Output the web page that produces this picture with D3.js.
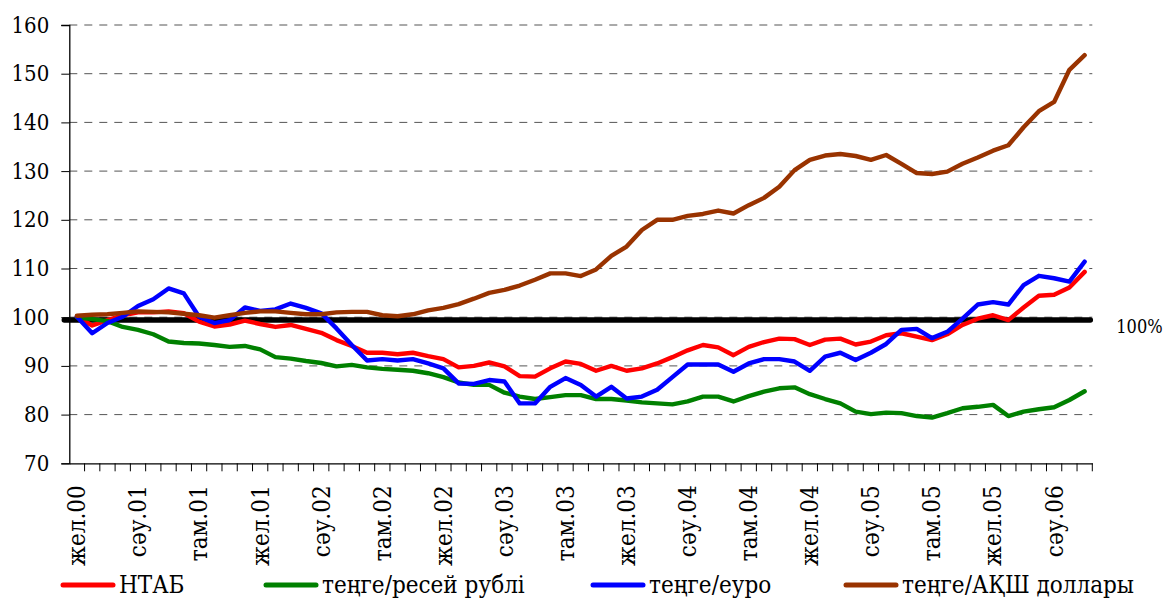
<!DOCTYPE html>
<html>
<head>
<meta charset="utf-8">
<script src="https://cdn.jsdelivr.net/npm/d3@7"></script>
<style>
  body { margin: 0; background: #fff; }
</style>
</head>
<body>
<svg class="rootSvg" width="1166" height="601"></svg>
<script>
// Kazakh month abbreviations, series runs Dec 2000 .. Jun 2006
var months = ['қаң', 'ақп', 'нау', 'сәу', 'мам', 'мау', 'шіл', 'там', 'қыр', 'қаз', 'қар', 'жел'];
var yTicks = [70, 80, 90, 100, 110, 120, 130, 140, 150, 160];

var ntab = [100.1, 98.3, 99.4, 100.4, 101.0, 101.0, 101.2, 100.8, 99.1, 98.1,
            98.5, 99.3, 98.6, 98.0, 98.4, 97.6, 96.8, 95.3, 94.1, 92.7,
            92.7, 92.4, 92.7, 92.0, 91.4, 89.7, 90.0, 90.7, 89.9, 87.9,
            87.8, 89.5, 90.9, 90.4, 89.0, 90.0, 89.0, 89.5, 90.5, 91.8,
            93.2, 94.3, 93.8, 92.2, 93.9, 94.9, 95.6, 95.5, 94.3, 95.4,
            95.6, 94.4, 95.0, 96.3, 96.7, 96.0, 95.3, 96.5, 98.4, 99.7,
            100.4, 99.4, 102.0, 104.4, 104.6, 106.1, 109.3];

var rub = [100.0, 99.6, 99.2, 98.0, 97.4, 96.5, 95.0, 94.7, 94.6, 94.3,
           93.9, 94.1, 93.4, 91.8, 91.5, 91.0, 90.6, 89.9, 90.2, 89.7,
           89.4, 89.2, 89.0, 88.5, 87.7, 86.6, 86.1, 86.1, 84.5, 83.7,
           83.2, 83.6, 84.0, 84.0, 83.2, 83.2, 82.9, 82.5, 82.3, 82.1,
           82.7, 83.7, 83.7, 82.7, 83.8, 84.7, 85.4, 85.6, 84.2, 83.2,
           82.3, 80.6, 80.1, 80.4, 80.3, 79.7, 79.4, 80.3, 81.3, 81.6,
           82.0, 79.7, 80.6, 81.1, 81.5, 83.0, 84.8];

var eur = [100.1, 96.7, 98.8, 100.1, 102.3, 103.7, 105.9, 104.9, 100.1, 98.8,
           99.4, 102.0, 101.3, 101.6, 102.8, 101.9, 100.8, 97.7, 94.3, 91.1,
           91.4, 91.1, 91.4, 90.5, 89.5, 86.4, 86.3, 87.1, 86.8, 82.3,
           82.3, 85.7, 87.5, 86.1, 83.7, 85.7, 83.3, 83.7, 85.1, 87.7,
           90.3, 90.3, 90.3, 88.8, 90.5, 91.4, 91.4, 90.9, 89.0, 91.9,
           92.7, 91.2, 92.7, 94.5, 97.4, 97.6, 95.7, 97.0, 99.7, 102.6,
           103.1, 102.6, 106.6, 108.5, 108.0, 107.3, 111.4];

var usd = [100.3, 100.5, 100.6, 100.9, 101.2, 101.1, 101.0, 100.7, 100.4, 99.9,
           100.4, 100.9, 101.2, 101.2, 100.9, 100.6, 100.6, 101.0, 101.1, 101.1,
           100.4, 100.2, 100.6, 101.4, 101.9, 102.7, 103.8, 105.0, 105.6, 106.5,
           107.7, 109.0, 109.0, 108.45, 109.8, 112.6, 114.5, 117.9, 120.0, 120.0,
           120.8, 121.2, 121.9, 121.3, 123.0, 124.5, 126.8, 130.2, 132.3, 133.2,
           133.5, 133.1, 132.3, 133.3, 131.5, 129.6, 129.4, 129.9, 131.5, 132.8,
           134.2, 135.3, 139.0, 142.3, 144.2, 150.8, 153.8];

var baseLevel = 99.45;

var seriesNames = ['НТАБ', 'теңге/ресей рублі', 'теңге/еуро', 'теңге/АҚШ доллары'];
var seriesColors = ['#ff0000', '#008000', '#0000ff', '#993300'];
var seriesData = [ntab, rub, eur, usd];

var fontFamily = 'DejaVu Serif Condensed, DejaVu Serif';

// category labels
var categories = [];
for (var i = 0; i < ntab.length; i++) {
    var m = (11 + i) % 12;
    var yr = 2000 + Math.floor((11 + i) / 12);
    categories.push(months[m] + '.' + String(yr).slice(2));
}

var svg = d3.select('.rootSvg')
    .attr('font-family', fontFamily);
var plotLeft = 69.3, plotRight = 1092.3, plotTop = 25, plotBottom = 463.3;

var x = d3.scaleBand().domain(categories).range([plotLeft, plotRight]);
var y = d3.scaleLinear().domain([70, 160]).range([plotBottom, plotTop]);

function cx(i) {
    return x(categories[i]) + x.bandwidth() / 2;
}

// gridlines
svg.append('g')
    .selectAll('line')
    .data(yTicks.slice(1))
    .enter()
    .append('line')
        .attr('x1', plotLeft)
        .attr('x2', plotRight)
        .attr('y1', function (d) { return y(d); })
        .attr('y2', function (d) { return y(d); })
        .attr('stroke', '#555')
        .attr('stroke-width', 1)
        .attr('stroke-dasharray', '8,7');

// y axis
var yAxis = svg.append('g')
    .attr('transform', 'translate(' + plotLeft + ',0)')
    .call(d3.axisLeft(y).tickValues(yTicks).tickSize(8).tickPadding(12));
yAxis.attr('font-family', fontFamily);
yAxis.select('.domain').attr('stroke', '#000').attr('stroke-width', 1.3);
yAxis.selectAll('.tick line').attr('stroke', '#000');
yAxis.selectAll('text')
    .attr('font-size', 22)
    .attr('fill', '#000');

// x axis: labels every 4 months, ticks at the band edges
var xAxis = svg.append('g')
    .attr('transform', 'translate(0,' + plotBottom + ')')
    .call(d3.axisBottom(x).tickSize(0).tickFormat(function (d, i) {
        return i % 4 === 0 ? d : '';
    }));
xAxis.attr('font-family', fontFamily);
xAxis.select('.domain').attr('stroke', '#000').attr('stroke-width', 1.3);
xAxis.selectAll('text')
    .attr('font-size', 24)
    .attr('fill', '#000')
    .attr('text-anchor', 'end')
    .attr('transform', 'rotate(-90)')
    .attr('x', -22)
    .attr('y', 0)
    .attr('dy', '0.35em');

var edges = categories.map(function (c) { return x(c); }).concat([plotRight]);
svg.append('g')
    .selectAll('line')
    .data(edges.slice(1))
    .enter()
    .append('line')
        .attr('x1', function (d) { return d; })
        .attr('x2', function (d) { return d; })
        .attr('y1', plotBottom)
        .attr('y2', plotBottom + 8)
        .attr('stroke', '#000')
        .attr('stroke-width', 1);

// 100% base line
svg.append('line')
    .attr('x1', plotLeft - 5)
    .attr('x2', plotRight - 2)
    .attr('y1', y(baseLevel))
    .attr('y2', y(baseLevel))
    .attr('stroke', '#000')
    .attr('stroke-width', 5.5)
    .attr('stroke-linecap', 'round');

svg.append('text')
    .attr('x', plotRight + 24)
    .attr('y', y(baseLevel) + 13)
    .attr('font-size', 18)
    .text('100%');

// series
var line = d3.line()
    .x(function (d, i) { return cx(i); })
    .y(function (d) { return y(d); });

svg.append('g')
    .selectAll('path')
    .data(seriesData)
    .enter()
    .append('path')
        .attr('d', line)
        .attr('fill', 'none')
        .attr('stroke', function (d, i) { return seriesColors[i]; })
        .attr('stroke-width', 4.4)
        .attr('stroke-linejoin', 'round')
        .attr('stroke-linecap', 'round');

// legend
var legendX = [63, 266, 593, 846];
var legend = svg.append('g')
    .selectAll('g')
    .data(seriesNames)
    .enter()
    .append('g')
        .attr('transform', function (d, i) { return 'translate(' + legendX[i] + ',585)'; });

legend.append('line')
    .attr('x1', 0)
    .attr('x2', 50)
    .attr('stroke', function (d, i) { return seriesColors[i]; })
    .attr('stroke-width', 5)
    .attr('stroke-linecap', 'round');

legend.append('text')
    .attr('x', 56)
    .attr('y', 8)
    .attr('font-size', 24)
    .text(function (d) { return d; });
</script>
</body>
</html>
